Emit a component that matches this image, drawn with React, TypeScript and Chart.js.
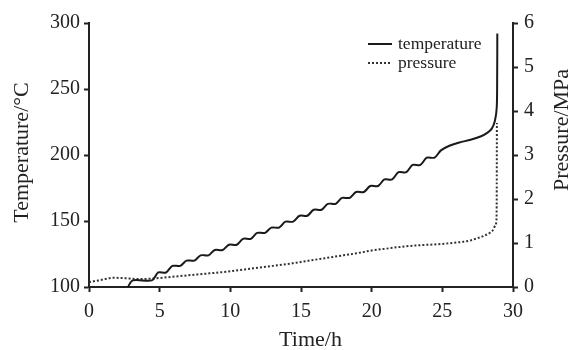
import React, { useEffect, useRef } from "react";
import { Chart, registerables } from "chart.js";

Chart.register(...registerables);

// ---- data ----
const tempTime = [
  2.75, 3.1, 4.45, 4.9, 5.45, 5.9, 6.45, 6.9, 7.45, 7.9, 8.45, 8.9, 9.45, 9.9,
  10.45, 10.9, 11.45, 11.9, 12.45, 12.9, 13.45, 13.9, 14.45, 14.9, 15.45, 15.9,
  16.45, 16.9, 17.45, 17.9, 18.45, 18.9, 19.45, 19.9, 20.45, 20.9, 21.45, 21.9,
  22.45, 22.9, 23.45, 23.9, 24.45, 24.9, 25.5, 26.2, 27.0, 27.7, 28.2, 28.5,
  28.72, 28.85, 28.88, 28.89,
];
const tempValue = [
  100, 105, 105, 111, 111, 116, 116, 120, 120, 124, 124, 128, 128, 132, 132,
  136.5, 136.5, 141, 141, 145, 145, 149.5, 149.5, 154, 154, 158.5, 158.5, 163,
  163, 167.5, 167.5, 172, 172, 176.5, 176.5, 181.5, 181.5, 187, 187, 192.5,
  192.5, 198, 198, 203.5, 207, 209.5, 211.5, 214, 217, 220, 226, 236, 260, 292,
];
const presTime = [
  0, 0.5, 1, 1.7, 2.5, 3.5, 4.4, 5.5, 6.5, 7.5, 8.5, 9.8, 11, 12, 13, 14, 15,
  16, 17, 18, 19, 20, 21, 22, 23, 24, 25, 26, 26.5, 27, 27.5, 28, 28.4, 28.6,
  28.75, 28.83, 28.85, 28.86,
];
const presValue = [
  0.11, 0.14, 0.17, 0.21, 0.2, 0.18, 0.19, 0.22, 0.25, 0.28, 0.31, 0.35, 0.4,
  0.44, 0.48, 0.52, 0.57, 0.62, 0.67, 0.72, 0.77, 0.83, 0.87, 0.91, 0.94, 0.96,
  0.98, 1.01, 1.03, 1.06, 1.11, 1.17, 1.24, 1.3, 1.4, 1.52, 2.2, 3.73,
];
const xTicks = [0, 5, 10, 15, 20, 25, 30];
const tempTicks = [100, 150, 200, 250, 300];
const presTicks = [0, 1, 2, 3, 4, 5, 6];
const seriesLabels = ["temperature", "pressure"];
const xTitle = "Time/h";
const yTitle = "Temperature/°C";
const y1Title = "Pressure/MPa";

const FONT = "'Liberation Serif', 'Times New Roman', serif";
const INK = "#222";

const overlay = {
  id: "overlay",
  afterDraw(chart: any) {
    const { ctx, chartArea: ca } = chart;
    ctx.save();
    // legend
    const ds = chart.data.datasets;
    const rows = [ca.top + 21, ca.top + 40];
    ds.forEach((d: any, i: number) => {
      const y = rows[i];
      ctx.beginPath();
      ctx.strokeStyle = d.borderColor;
      ctx.lineWidth = d.borderWidth;
      ctx.setLineDash(d.borderDash || []);
      ctx.moveTo(ca.right - 145, y);
      ctx.lineTo(ca.right - 121, y);
      ctx.stroke();
      ctx.setLineDash([]);
      ctx.fillStyle = INK;
      ctx.font = `17.5px ${FONT}`;
      ctx.textAlign = "left";
      ctx.textBaseline = "alphabetic";
      ctx.fillText(d.label, ca.right - 115, y + 5);
    });
    // axis titles
    ctx.fillStyle = INK;
    ctx.font = `22px ${FONT}`;
    ctx.textAlign = "center";
    ctx.textBaseline = "alphabetic";
    ctx.fillText(xTitle, (ca.left + ca.right) / 2 + 9.5, 346);

    ctx.save();
    ctx.translate(27.5, (ca.top + ca.bottom) / 2 - 2.5);
    ctx.rotate(-Math.PI / 2);
    ctx.fillText(yTitle, 0, 0);
    ctx.restore();

    ctx.save();
    ctx.translate(568, 130);
    ctx.rotate(-Math.PI / 2);
    ctx.fillText(y1Title, 0, 0);
    ctx.restore();

    ctx.restore();
  },
};

export default function App() {
  const ref = useRef<HTMLCanvasElement | null>(null);

  useEffect(() => {
    if (!ref.current) return;
    const tickFont = { family: FONT, size: 20 };
    const chart = new Chart(ref.current, {
      type: "line",
      data: {
        datasets: [
          {
            label: seriesLabels[0],
            data: tempTime.map((t, i) => ({ x: t, y: tempValue[i] })),
            yAxisID: "y",
            borderColor: "#1a1a1a",
            borderWidth: 2,
            pointRadius: 0,
            tension: 0.3,
            fill: false,
          },
          {
            label: seriesLabels[1],
            data: presTime.map((t, i) => ({ x: t, y: presValue[i] })),
            yAxisID: "y1",
            borderColor: "#333",
            borderWidth: 2,
            borderDash: [2, 2],
            pointRadius: 0,
            cubicInterpolationMode: "monotone",
            fill: false,
          },
        ],
      },
      options: {
        responsive: false,
        animation: false,
        devicePixelRatio: 1,
        layout: { padding: { top: 23, left: 0, right: 0, bottom: 0 } },
        plugins: {
          legend: { display: false },
          tooltip: { enabled: false },
        },
        scales: {
          x: {
            type: "linear",
            min: 0,
            max: 30,
            afterBuildTicks: (s: any) => {
              s.ticks = xTicks.map((v) => ({ value: v }));
            },
            afterFit: (s: any) => {
              s.height = 63;
            },
            grid: {
              drawOnChartArea: false,
              drawTicks: true,
              tickLength: 5,
              tickWidth: 2,
              tickColor: INK,
            },
            border: { display: true, color: INK, width: 2 },
            ticks: { font: tickFont, color: INK, padding: 8, maxRotation: 0 },
          },
          y: {
            type: "linear",
            position: "left",
            min: 100,
            max: 300,
            afterBuildTicks: (s: any) => {
              s.ticks = tempTicks.map((v) => ({ value: v }));
            },
            afterFit: (s: any) => {
              s.width = 89;
            },
            grid: {
              drawOnChartArea: false,
              drawTicks: true,
              tickLength: 5,
              tickWidth: 2,
              tickColor: INK,
            },
            border: { display: true, color: INK, width: 2 },
            ticks: { font: tickFont, color: INK, padding: 4 },
          },
          y1: {
            type: "linear",
            position: "right",
            min: 0,
            max: 6,
            afterBuildTicks: (s: any) => {
              s.ticks = presTicks.map((v) => ({ value: v }));
            },
            afterFit: (s: any) => {
              s.width = 58;
            },
            grid: {
              drawOnChartArea: false,
              drawTicks: true,
              tickLength: 5,
              tickWidth: 2,
              tickColor: INK,
            },
            border: { display: true, color: INK, width: 2 },
            ticks: { font: tickFont, color: INK, padding: 6 },
          },
        },
      },
      plugins: [overlay],
    } as any);
    return () => chart.destroy();
  }, []);

  return (
    <div style={{ position: "absolute", left: 0, top: 0, width: 571, height: 350, background: "#fff" }}>
      <canvas ref={ref} width={571} height={350} style={{ display: "block" }} />
    </div>
  );
}
